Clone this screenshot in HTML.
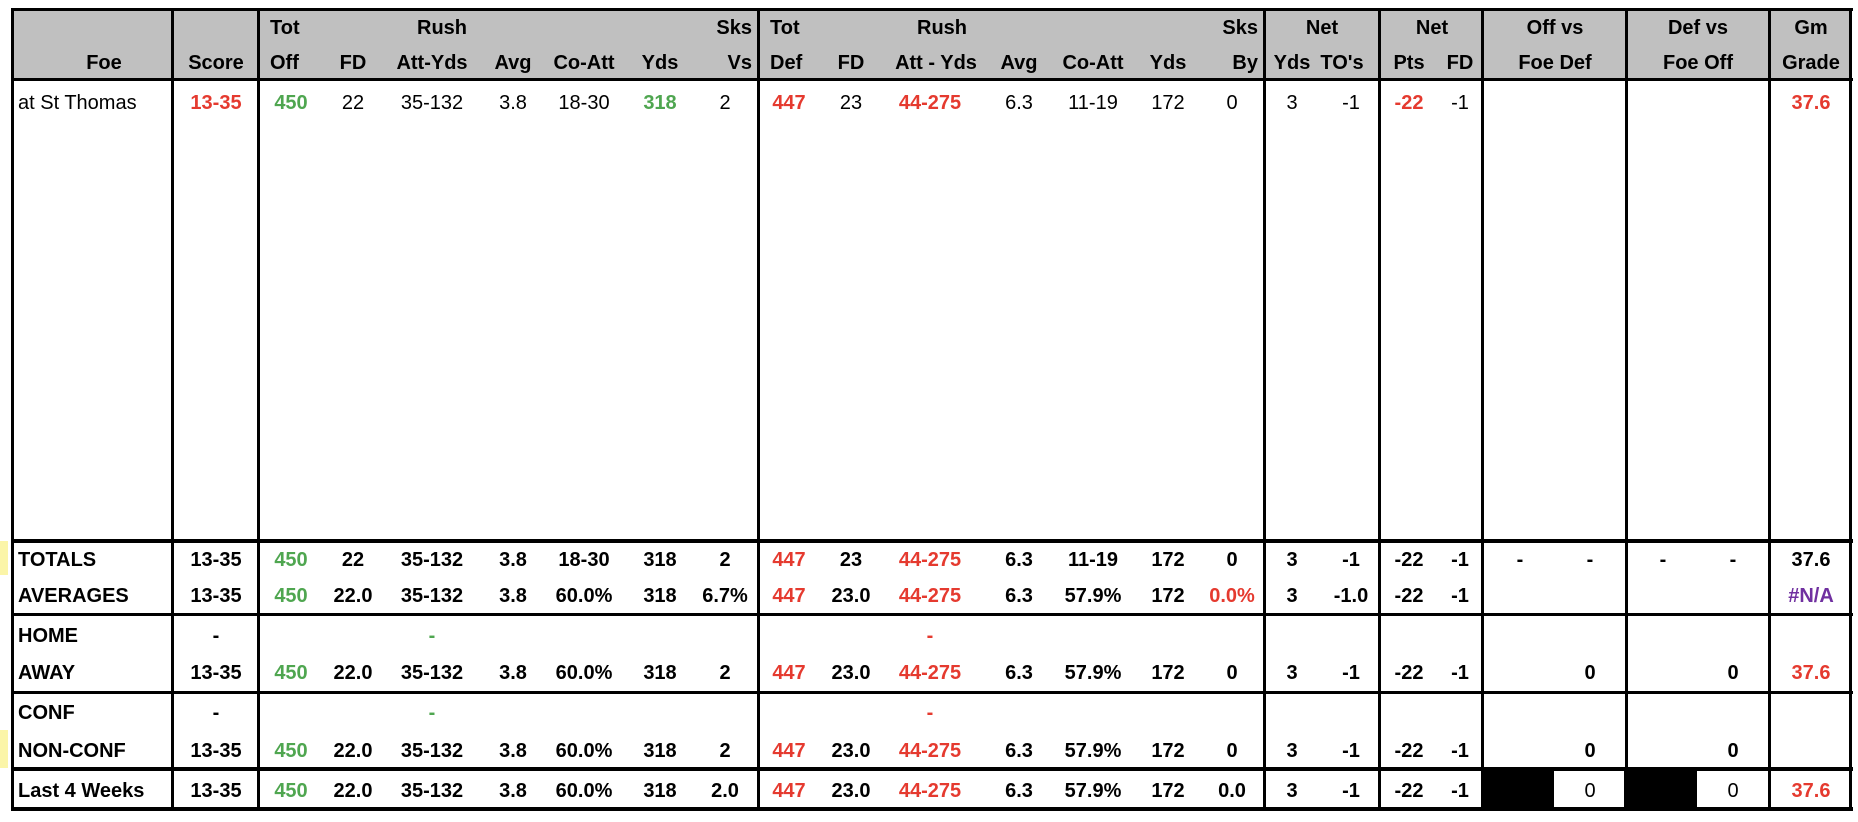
<!DOCTYPE html>
<html><head><meta charset="utf-8">
<style>
html,body{margin:0;padding:0;background:#fff;}
#t{position:relative;width:1858px;height:822px;overflow:hidden;font-family:"Liberation Sans",Arial,sans-serif;}
.ln{position:absolute;background:#000;}
.tx{position:absolute;font-size:20px;line-height:24px;white-space:nowrap;transform:translate(-50%,-50%);color:#000;}
.l{transform:translate(0,-50%);}
.r{transform:translate(-100%,-50%);}
.b{font-weight:bold;}
.red{color:#e53a2f;font-weight:bold;}
.grn{color:#4fa650;font-weight:bold;}
.pur{color:#7030a0;font-weight:bold;}
</style></head>
<body>
<div id="t">
<div style="position:absolute;left:11px;top:8px;width:1840px;height:72px;background:#c0c0c0;"></div>
<div style="position:absolute;left:0;top:541px;width:8px;height:34px;background:#fbf5a8;"></div>
<div style="position:absolute;left:0;top:730px;width:8px;height:38px;background:#fbf5a8;"></div>
<div style="position:absolute;left:1481px;top:768px;width:73px;height:42px;background:#000;"></div>
<div style="position:absolute;left:1624px;top:768px;width:73px;height:42px;background:#000;"></div>
</div>
<script>
const root=document.getElementById('t');
const colX=[18,216,291,353,432,513,584,660,725,789,851,930,1019,1093,1168,1232,1292,1351,1409,1460,1520,1590,1663,1733,1811];
const hLines=[[8,3],[78,3],[539,4],[613,3],[691,3],[767,4],[807,4]];
const vLines=[11,171,257,757,1263,1378,1481,1625,1768,1849];
hLines.forEach(h=>{const d=document.createElement('div');


d.className='ln';d.style.left='11px';d.style.width='1842px';d.style.top=h[0]+'px';d.style.height=h[1]+'px';root.appendChild(d);});
vLines.forEach(x=>{const d=document.createElement('div');


d.className='ln';d.style.left=x+'px';d.style.width='3px';d.style.top='8px';d.style.height='803px';root.appendChild(d);});
function put(x,y,t,cls,name){const d=document.createElement('div');


d.className='tx '+(cls||'');d.style.left=x+'px';d.style.top=y+'px';d.textContent=t;root.appendChild(d);}
// header row 1
const h1=[[270,'Tot','l'],[442,'Rush',''],[752,'Sks','r'],[770,'Tot','l'],[942,'Rush',''],[1258,'Sks','r'],[1322,'Net',''],[1432,'Net',''],[1555,'Off vs',''],[1698,'Def vs',''],[1811,'Gm','']];
h1.forEach(h=>put(h[0],28,h[1],'b '+h[2],'header-top'));
const h2=[[104,'Foe',''],[216,'Score',''],[270,'Off','l'],[353,'FD',''],[432,'Att-Yds',''],[513,'Avg',''],[584,'Co-Att',''],[660,'Yds',''],[752,'Vs','r'],[770,'Def','l'],[851,'FD',''],[936,'Att - Yds',''],[1019,'Avg',''],[1093,'Co-Att',''],[1168,'Yds',''],[1258,'By','r'],[1292,'Yds',''],[1342,"TO's",''],[1409,'Pts',''],[1460,'FD',''],[1555,'Foe Def',''],[1698,'Foe Off',''],[1811,'Grade','']];
h2.forEach(h=>put(h[0],63,h[1],'b '+h[2],'header-label'));
// rows: value|class codes: r=red g=green p=purple n=normal, b=bold
const rows=[
 [103,false,['at St Thomas','13-35|r','450|g','22','35-132','3.8','18-30','318|g','2','447|r','23','44-275|r','6.3','11-19','172','0','3','-1','-22|r','-1','','','','','37.6|r']],
 [560,true,['TOTALS','13-35','450|g','22','35-132','3.8','18-30','318','2','447|r','23','44-275|r','6.3','11-19','172','0','3','-1','-22','-1','-','-','-','-','37.6']],
 [596,true,['AVERAGES','13-35','450|g','22.0','35-132','3.8','60.0%','318','6.7%','447|r','23.0','44-275|r','6.3','57.9%','172','0.0%|r','3','-1.0','-22','-1','','','','','#N/A|p']],
 [636,true,['HOME','-','','','-|g','','','','','','','-|r','','','','','','','','','','','','','']],
 [673,true,['AWAY','13-35','450|g','22.0','35-132','3.8','60.0%','318','2','447|r','23.0','44-275|r','6.3','57.9%','172','0','3','-1','-22','-1','','0','','0','37.6|r']],
 [713,true,['CONF','-','','','-|g','','','','','','','-|r','','','','','','','','','','','','','']],
 [751,true,['NON-CONF','13-35','450|g','22.0','35-132','3.8','60.0%','318','2','447|r','23.0','44-275|r','6.3','57.9%','172','0','3','-1','-22','-1','','0','','0','']],
 [791,true,['Last 4 Weeks','13-35','450|g','22.0','35-132','3.8','60.0%','318','2.0','447|r','23.0','44-275|r','6.3','57.9%','172','0.0','3','-1','-22','-1','','0|n','','0|n','37.6|r']]
];
rows.forEach(r=>{r[2].forEach((v,i)=>{if(!v)return;const p=v.split('|');let c='';
 if(p[1]==='r')c='red';else if(p[1]==='g')c='grn';else if(p[1]==='p')c='pur';else if(p[1]==='n')c='';else if(r[1])c='b';
 if(i===0)c+=' l';
 let x=colX[i];if(i===0)x=18;
 put(x,r[0],p[0],c,i===0?'row-label':'cell-value');});});
</script>
</body></html>
